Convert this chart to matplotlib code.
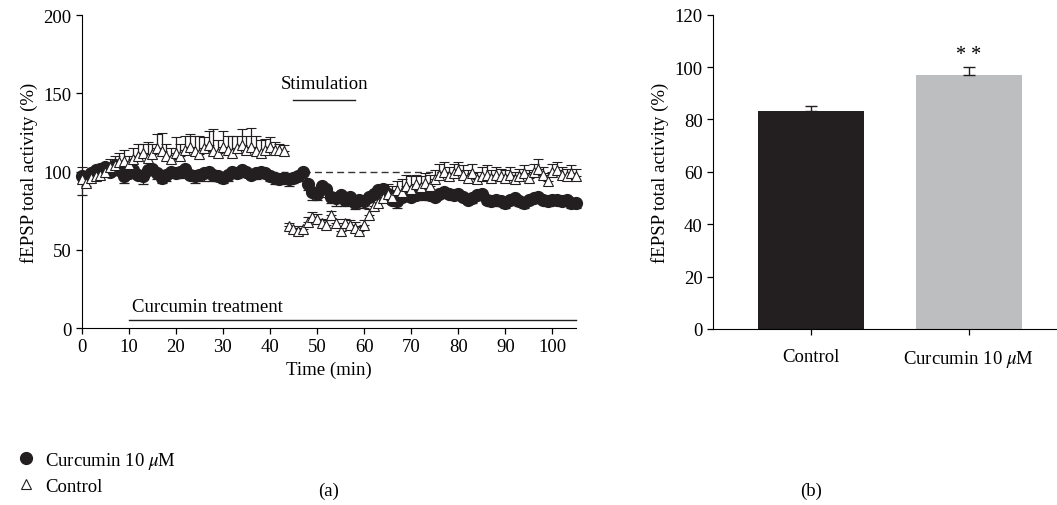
import numpy as np
import matplotlib
matplotlib.use("Agg")
import matplotlib.pyplot as plt
from matplotlib.lines import Line2D

plt.rcParams['font.family'] = ['Liberation Serif', 'DejaVu Serif']
plt.rcParams['mathtext.fontset'] = 'stix'

# ---- data, panel (a) ----
time = list(range(0, 106))

curcumin = [97, 96, 99, 101, 102, 103, 100, 104, 101, 97,
            99, 101, 98, 97, 101, 102, 99, 96, 98, 100,
            99, 100, 102, 98, 97, 98, 99, 100, 98, 97,
            96, 98, 100, 99, 101, 100, 98, 99, 100, 99,
            97, 96, 95, 96, 95, 96, 97, 100, 92, 87,
            86, 91, 89, 84, 83, 85, 82, 84, 80, 82,
            81, 84, 86, 88, 89, 86, 82, 81, 84, 85,
            84, 85, 87, 86, 85, 84, 86, 87, 86, 85,
            86, 84, 82, 83, 85, 86, 82, 81, 82, 81,
            80, 82, 83, 81, 80, 82, 83, 84, 82, 81,
            82, 82, 81, 82, 80, 80]
curcumin_err = [12, 5, 4, 3, 3, 4, 3, 4, 3, 4,
                3, 4, 3, 5, 3, 3, 4, 3, 4, 3,
                3, 4, 3, 3, 4, 3, 5, 3, 4, 3,
                3, 4, 3, 3, 4, 3, 3, 4, 3, 3,
                3, 4, 3, 3, 4, 3, 3, 4, 4, 5,
                4, 4, 5, 4, 5, 4, 4, 5, 4, 4,
                4, 3, 3, 4, 3, 4, 3, 4, 3, 3,
                3, 3, 3, 4, 3, 3, 3, 3, 3, 3,
                3, 3, 3, 3, 3, 3, 3, 3, 3, 3,
                3, 3, 3, 3, 3, 3, 3, 3, 3, 3,
                3, 3, 3, 3, 3, 3]

control = [95, 93, 96, 97, 98, 100, 103, 104, 106, 107,
           105, 108, 110, 112, 109, 111, 115, 113, 110, 108,
           112, 110, 114, 116, 113, 111, 115, 117, 113, 112,
           116, 114, 112, 115, 117, 114, 116, 113, 112, 114,
           116, 114, 114, 113, 65, 63, 62, 63, 68, 71,
           70, 67, 66, 72, 67, 62, 67, 66, 64, 62,
           66, 72, 78, 80, 83, 86, 84, 88, 87, 91,
           89, 92, 90, 93, 91, 95, 98, 100, 97, 99,
           101, 98, 96, 99, 95, 97, 98, 96, 98, 97,
           96, 98, 95, 97, 99, 96, 100, 102, 98, 94,
           100, 101, 98, 97, 99, 97]
control_err = [8, 6, 5, 4, 4, 5, 5, 6, 6, 7,
               5, 7, 8, 6, 10, 7, 9, 12, 8, 7,
               10, 8, 9, 8, 10, 12, 7, 9, 14, 8,
               10, 9, 11, 8, 10, 9, 12, 10, 8, 7,
               6, 5, 4, 4, 2, 2, 2, 2, 3, 3,
               3, 3, 3, 3, 3, 3, 3, 3, 4, 3,
               3, 4, 5, 5, 6, 6, 7, 6, 8, 7,
               8, 6, 7, 6, 7, 6, 7, 6, 6, 6,
               5, 6, 5, 6, 5, 6, 6, 5, 5, 5,
               5, 5, 5, 5, 5, 5, 5, 6, 5, 5,
               5, 5, 5, 5, 5, 5]

# ---- data, panel (b) ----
groups = ["Control", "Curcumin 10 $\\mu$M"]
means = [83.3, 96.9]
errs = [2.0, 3.0]
bar_colors = ["#231f20", "#bcbec0"]

fig = plt.figure(figsize=(10.57, 5.06), dpi=100)
axa = fig.add_axes([0.0772, 0.3498, 0.4677, 0.618])
axb = fig.add_axes([0.6746, 0.348, 0.324, 0.621])

fs = 13.5

# panel a
axa.plot([40, 78], [100, 100], ls=(0, (5, 3)), color="#333333", lw=1, zorder=1)
axa.errorbar(time, curcumin, yerr=[curcumin_err, [0] * len(curcumin_err)],
             fmt='o', ms=8.5, mfc="#231f20", mec="#231f20", ecolor="#231f20",
             elinewidth=0.9, capsize=3.5, capthick=0.9, zorder=3, clip_on=False)
axa.errorbar(time, control, yerr=[[0] * len(control_err), control_err],
             fmt='^', ms=7, mfc="white", mec="#231f20", mew=0.8, ecolor="#231f20",
             elinewidth=0.9, capsize=3.5, capthick=0.9, zorder=4, clip_on=False)

axa.plot([45, 58], [146, 146], color="#231f20", lw=1)
axa.text(51.5, 151, "Stimulation", ha="center", va="bottom", fontsize=fs)
axa.plot([10, 105], [5, 5], color="#231f20", lw=1, clip_on=False)
axa.text(10.6, 8.5, "Curcumin treatment", ha="left", va="bottom", fontsize=fs)

axa.set_xlim(0, 105)
axa.set_ylim(0, 200)
axa.set_xticks(range(0, 101, 10))
axa.set_yticks(range(0, 201, 50))
axa.set_xlabel("Time (min)", fontsize=fs)
axa.set_ylabel("fEPSP total activity (%)", fontsize=fs)
for s in ["top", "right"]:
    axa.spines[s].set_visible(False)
axa.tick_params(labelsize=fs, direction="out", length=4, width=0.9)

# panel b
pos = np.arange(len(groups))
axb.bar(pos, means, width=0.67, color=bar_colors, zorder=2)
axb.errorbar(pos, means, yerr=[[0, 0], errs], fmt='none', ecolor="#231f20",
             elinewidth=1, capsize=4, capthick=1, zorder=3)
axb.text(pos[1], 101, "* *", ha="center", va="bottom", fontsize=fs + 1)
axb.set_xlim(-0.62, 1.55)
axb.set_ylim(0, 120)
axb.set_yticks(range(0, 121, 20))
axb.set_xticks(pos)
axb.set_xticklabels(groups)
axb.set_ylabel("fEPSP total activity (%)", fontsize=fs)
for s in ["top", "right"]:
    axb.spines[s].set_visible(False)
axb.tick_params(labelsize=fs, direction="out", length=4, width=0.9)
axb.tick_params(axis="x", pad=10)

# legend
h1 = Line2D([], [], marker='o', ls='none', ms=8.5, mfc="#231f20", mec="#231f20")
h2 = Line2D([], [], marker='^', ls='none', ms=7, mfc="white", mec="#231f20", mew=0.8)
fig.legend([h1, h2], ["Curcumin 10 $\\mu$M", "Control"], loc="upper left",
           bbox_to_anchor=(-0.002, 0.142), frameon=False, fontsize=fs,
           handletextpad=0.4, labelspacing=0.35, handlelength=1.2)

fig.text(0.311, 0.02, "(a)", ha="center", fontsize=fs)
fig.text(0.767, 0.02, "(b)", ha="center", fontsize=fs)

fig.savefig("out.png", dpi=100)
